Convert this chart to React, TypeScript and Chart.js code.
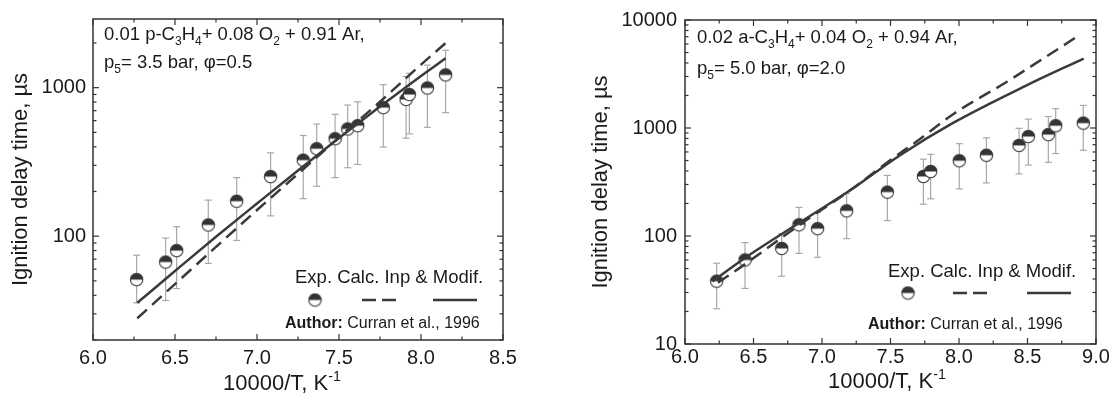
import React, { useEffect, useRef } from "react";
import { Chart, registerables } from "chart.js";
Chart.register(...registerables);

// ---------- Left panel: 0.01 p-C3H4 + 0.08 O2 + 0.91 Ar ----------
const leftExpX = [6.266, 6.443, 6.51, 6.703, 6.876, 7.083, 7.282, 7.364, 7.476, 7.553, 7.614, 7.77, 7.909, 7.929, 8.039, 8.15];
const leftExpY = [51, 67, 80, 119, 172, 252, 325, 388, 453, 527, 555, 734, 833, 899, 995, 1219];
const leftErrHigh = [74.5, 97, 116, 175, 248, 364, 476, 569, 662, 764, 803, 1047, 1189, 1250, 1419, 1786];
const leftErrLow = [35.6, 36.9, 44.4, 65.6, 93.6, 137, 179, 217, 248, 289, 304, 398, 457, 489, 541, 679];
const leftCalcX = [6.27, 6.5, 6.75, 7.0, 7.25, 7.5, 7.75, 8.0, 8.15];
const leftCalcY = [28, 47.6, 84.7, 150, 263, 462, 804, 1429, 1995];
const leftModX = [6.27, 6.5, 6.75, 7.0, 7.25, 7.5, 7.75, 8.0, 8.15];
const leftModY = [35.6, 58.3, 99.1, 166, 277, 458, 746, 1197, 1578];
const leftYTicks = [100, 1000];

// ---------- Right panel: 0.02 a-C3H4 + 0.04 O2 + 0.94 Ar ----------
const rightExpX = [6.231, 6.438, 6.706, 6.832, 6.968, 7.18, 7.477, 7.74, 7.793, 8.002, 8.2, 8.438, 8.506, 8.652, 8.706, 8.907];
const rightExpY = [38.2, 60, 76.8, 127, 117, 171, 255, 356, 396, 498, 560, 690, 834, 869, 1050, 1110];
const rightErrHigh = [56, 86.9, 105, 184, 165, 248, 364, 515, 571, 716, 811, 993, 1208, 1277, 1511, 1619];
const rightErrLow = [21.2, 32.7, 42.4, 69, 63.5, 94.5, 139, 197, 221, 273, 310, 376, 454, 481, 580, 622];
const rightCalcX = [6.24, 6.44, 6.84, 7.2, 7.5, 7.72, 7.96, 8.35, 8.54, 8.88];
const rightCalcY = [37, 55, 128, 262, 505, 800, 1350, 2680, 3820, 7260];
const rightModX = [6.2, 6.44, 6.84, 7.2, 7.57, 7.96, 8.49, 8.91];
const rightModY = [38, 63, 134, 262, 560, 1120, 2470, 4395];
const rightYTicks = [10, 100, 1000, 10000];

const FONT = '"Liberation Sans", Arial, sans-serif';
const TEXT = "#1a1a1a";
const LINE = "#3a3a3a";

function makeMarker(): HTMLCanvasElement {
  const c = document.createElement("canvas");
  c.width = 15;
  c.height = 15;
  const g = c.getContext("2d")!;
  g.beginPath();
  g.arc(7.5, 7.5, 6.2, 0, Math.PI * 2);
  g.fillStyle = "#fff";
  g.fill();
  g.beginPath();
  g.arc(7.5, 7.5, 6.2, Math.PI, Math.PI * 2);
  g.closePath();
  g.fillStyle = "#333";
  g.fill();
  g.beginPath();
  g.arc(7.5, 7.5, 6.2, 0, Math.PI * 2);
  g.strokeStyle = "#333";
  g.lineWidth = 1.1;
  g.stroke();
  return c;
}

type Seg = [string, "n" | "sub" | "sup" | "b"];
function drawRich(ctx: CanvasRenderingContext2D, segs: Seg[], x: number, y: number, size: number) {
  let cx = x;
  ctx.fillStyle = TEXT;
  ctx.textAlign = "left";
  ctx.textBaseline = "alphabetic";
  for (const [t, k] of segs) {
    const small = k === "sub" || k === "sup";
    const fs = small ? size * 0.65 : size;
    ctx.font = `${k === "b" ? "bold " : ""}${fs}px ${FONT}`;
    const dy = k === "sub" ? size * 0.28 : k === "sup" ? -size * 0.42 : 0;
    ctx.fillText(t, cx, y + dy);
    cx += ctx.measureText(t).width;
  }
}

interface PanelCfg {
  width: number;
  expX: number[]; expY: number[]; errLow: number[]; errHigh: number[];
  calcX: number[]; calcY: number[]; modX: number[]; modY: number[];
  yTicks: number[];
  xMin: number; xMax: number; yMin: number; yMax: number;
  padTop: number; padRight: number; yWidth: number; xHeight: number;
  yTitlePad: number; xTickPad: number; yTickPad: number;
  line1: Seg[]; line2: Seg[];
  annX: number; ann1Y: number; ann2Y: number;
  xTitleX: number; xTitleY: number;
  legX: number; legY: number; markX: number; symY: number;
  dash: [number, number]; solid: [number, number];
  authX: number; authY: number;
}

function line(ctx: CanvasRenderingContext2D, x1: number, y1: number, x2: number, y2: number) {
  ctx.beginPath();
  ctx.moveTo(x1, y1);
  ctx.lineTo(x2, y2);
  ctx.stroke();
}

function buildChart(canvas: HTMLCanvasElement, cfg: PanelCfg, marker: HTMLCanvasElement) {
  const pts = (xs: number[], ys: number[]) => xs.map((x, i) => ({ x, y: ys[i] }));

  const plugin = {
    id: "panelDecor",
    beforeDatasetsDraw(chart: any) {
      const { ctx, scales } = chart;
      const xs = scales.x, ys = scales.y;
      ctx.save();
      ctx.strokeStyle = "#a8a8a8";
      ctx.lineWidth = 1.2;
      cfg.expX.forEach((xv, i) => {
        const px = xs.getPixelForValue(xv);
        const ph = ys.getPixelForValue(cfg.errHigh[i]);
        const pl = ys.getPixelForValue(cfg.errLow[i]);
        line(ctx, px, ph, px, pl);
        line(ctx, px - 3.5, ph, px + 3.5, ph);
        line(ctx, px - 3.5, pl, px + 3.5, pl);
      });
      ctx.restore();
    },
    afterDraw(chart: any) {
      const { ctx, chartArea: a, scales } = chart;
      const xs = scales.x, ys = scales.y;
      ctx.save();
      ctx.strokeStyle = "#333";
      ctx.lineWidth = 1.5;
      ctx.strokeRect(a.left, a.top, a.right - a.left, a.bottom - a.top);
      ctx.lineWidth = 1.2;
      for (let k = 0; ; k++) {
        const v = cfg.xMin + k * 0.25;
        if (v > cfg.xMax + 1e-9) break;
        const px = xs.getPixelForValue(v);
        const len = k % 2 === 0 ? 6 : 3.5;
        line(ctx, px, a.bottom, px, a.bottom - len);
        line(ctx, px, a.top, px, a.top + len);
      }
      const d0 = Math.floor(Math.log10(cfg.yMin));
      const d1 = Math.ceil(Math.log10(cfg.yMax));
      for (let d = d0; d <= d1; d++) {
        for (let m = 1; m <= 9; m++) {
          const v = m * Math.pow(10, d);
          if (v < cfg.yMin * 0.999 || v > cfg.yMax * 1.001) continue;
          const py = ys.getPixelForValue(v);
          const len = m === 1 ? 6 : 3.5;
          line(ctx, a.left, py, a.left + len, py);
          line(ctx, a.right, py, a.right - len, py);
        }
      }
      drawRich(ctx, cfg.line1, cfg.annX, cfg.ann1Y, 18.5);
      drawRich(ctx, cfg.line2, cfg.annX, cfg.ann2Y, 18.5);
      drawRich(ctx, [["10000/T, K", "n"], ["-1", "sup"]], cfg.xTitleX, cfg.xTitleY, 22);
      drawRich(ctx, [["Exp. Calc. Inp & Modif.", "n"]], cfg.legX, cfg.legY, 18.5);
      ctx.drawImage(marker, cfg.markX - 7.5, cfg.symY - 7.5);
      ctx.strokeStyle = LINE;
      ctx.lineWidth = 2.5;
      ctx.setLineDash([14, 6]);
      line(ctx, cfg.dash[0], cfg.symY, cfg.dash[1], cfg.symY);
      ctx.setLineDash([]);
      line(ctx, cfg.solid[0], cfg.symY, cfg.solid[1], cfg.symY);
      drawRich(ctx, [["Author:", "b"], [" Curran et al., 1996", "n"]], cfg.authX, cfg.authY, 16);
      ctx.restore();
    },
  };

  return new Chart(canvas, {
    type: "scatter",
    data: {
      datasets: [
        {
          label: "Inp & Modif.",
          data: pts(cfg.modX, cfg.modY),
          showLine: true,
          borderColor: LINE,
          borderWidth: 2.5,
          pointRadius: 0,
          cubicInterpolationMode: "monotone",
          order: 0,
        },
        {
          label: "Calc.",
          data: pts(cfg.calcX, cfg.calcY),
          showLine: true,
          borderColor: LINE,
          borderWidth: 2.5,
          borderDash: [13, 7],
          pointRadius: 0,
          cubicInterpolationMode: "monotone",
          order: 0,
        },
        {
          label: "Exp.",
          data: pts(cfg.expX, cfg.expY),
          showLine: false,
          pointStyle: marker,
          pointRadius: 6,
          order: 1,
        },
      ],
    } as any,
    options: {
      responsive: false,
      animation: false,
      devicePixelRatio: 1,
      layout: { padding: { left: 0, right: cfg.padRight, top: cfg.padTop, bottom: 0 } },
      plugins: { legend: { display: false }, tooltip: { enabled: false } },
      scales: {
        x: {
          type: "linear",
          min: cfg.xMin,
          max: cfg.xMax,
          grid: { display: false, drawTicks: false },
          border: { display: false },
          ticks: {
            stepSize: 0.5,
            padding: cfg.xTickPad,
            color: TEXT,
            font: { size: 20, family: FONT },
            callback: (v: any) => Number(v).toFixed(1),
          },
          afterFit: (s: any) => { s.height = cfg.xHeight; },
        },
        y: {
          type: "logarithmic",
          min: cfg.yMin,
          max: cfg.yMax,
          grid: { display: false, drawTicks: false },
          border: { display: false },
          ticks: {
            padding: cfg.yTickPad,
            color: TEXT,
            autoSkip: false,
            font: { size: 20, family: FONT },
            callback: (v: any) => String(v),
          },
          afterBuildTicks: (s: any) => { s.ticks = cfg.yTicks.map((v) => ({ value: v })); },
          afterFit: (s: any) => { s.width = cfg.yWidth; },
          title: {
            display: true,
            text: "Ignition delay time, µs",
            color: TEXT,
            font: { size: 22, family: FONT },
            padding: { top: cfg.yTitlePad, bottom: 0 },
          },
        },
      },
    } as any,
    plugins: [plugin],
  });
}

const leftCfg: PanelCfg = {
  width: 550,
  expX: leftExpX, expY: leftExpY, errLow: leftErrLow, errHigh: leftErrHigh,
  calcX: leftCalcX, calcY: leftCalcY, modX: leftModX, modY: leftModY,
  yTicks: leftYTicks,
  xMin: 6, xMax: 8.5, yMin: 20, yMax: 2900,
  padTop: 13, padRight: 47, yWidth: 93, xHeight: 63,
  yTitlePad: 8, xTickPad: 6, yTickPad: 7,
  line1: [["0.01 p-C", "n"], ["3", "sub"], ["H", "n"], ["4", "sub"], ["+ 0.08 O", "n"], ["2", "sub"], [" + 0.91 Ar,", "n"]],
  line2: [["p", "n"], ["5", "sub"], ["= 3.5 bar, φ=0.5", "n"]],
  annX: 104, ann1Y: 40, ann2Y: 68,
  xTitleX: 223, xTitleY: 390,
  legX: 295, legY: 283, markX: 315, symY: 300,
  dash: [362, 396], solid: [433, 477],
  authX: 285, authY: 328,
};

const rightCfg: PanelCfg = {
  width: 565,
  expX: rightExpX, expY: rightExpY, errLow: rightErrLow, errHigh: rightErrHigh,
  calcX: rightCalcX, calcY: rightCalcY, modX: rightModX, modY: rightModY,
  yTicks: rightYTicks,
  xMin: 6, xMax: 9, yMin: 10, yMax: 10000,
  padTop: 15, padRight: 19, yWidth: 135, xHeight: 59,
  yTitlePad: 38, xTickPad: 1, yTickPad: 8,
  line1: [["0.02 a-C", "n"], ["3", "sub"], ["H", "n"], ["4", "sub"], ["+ 0.04 O", "n"], ["2", "sub"], [" + 0.94 Ar,", "n"]],
  line2: [["p", "n"], ["5", "sub"], ["= 5.0 bar, φ=2.0", "n"]],
  annX: 147, ann1Y: 43, ann2Y: 74,
  xTitleX: 278, xTitleY: 388,
  legX: 338, legY: 277, markX: 358, symY: 293,
  dash: [403, 438], solid: [477, 521],
  authX: 318, authY: 329,
};

export default function App() {
  const leftRef = useRef<HTMLCanvasElement>(null);
  const rightRef = useRef<HTMLCanvasElement>(null);

  useEffect(() => {
    const marker = makeMarker();
    const c1 = buildChart(leftRef.current!, leftCfg, marker);
    const c2 = buildChart(rightRef.current!, rightCfg, marker);
    return () => {
      c1.destroy();
      c2.destroy();
    };
  }, []);

  return (
    <div style={{ position: "absolute", left: 0, top: 0, width: 1115, height: 403, background: "#fff" }}>
      <canvas ref={leftRef} width={550} height={403} style={{ position: "absolute", left: 0, top: 0, width: 550, height: 403 }} />
      <canvas ref={rightRef} width={565} height={403} style={{ position: "absolute", left: 550, top: 0, width: 565, height: 403 }} />
    </div>
  );
}
